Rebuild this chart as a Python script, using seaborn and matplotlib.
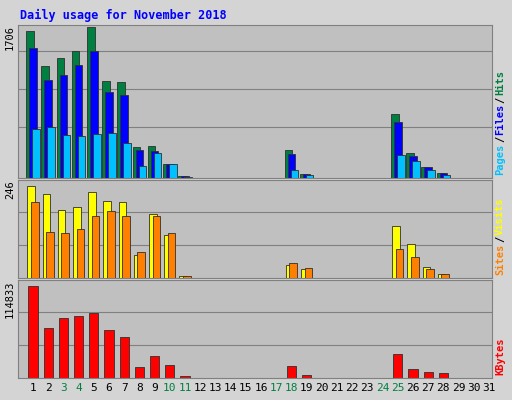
import numpy as np
import matplotlib
matplotlib.use("Agg")
import matplotlib.pyplot as plt
import seaborn as sns

sns.set_style("white")
plt.rcParams['font.family'] = ['DejaVu Sans Mono', 'DejaVu Sans']

days = list(range(1, 32))
weekend_days = [3, 4, 10, 11, 17, 18, 24, 25]
active = [1, 2, 3, 4, 5, 6, 7, 8, 9, 10, 11, 18, 19, 25, 26, 27, 28]

hits = [1660, 1262, 1353, 1433, 1706, 1092, 1081, 353, 364, 160, 23, 319, 46, 728, 284, 125, 57]
files = [1467, 1103, 1160, 1274, 1433, 967, 933, 319, 307, 160, 23, 273, 46, 637, 250, 125, 57]
pages = [557, 580, 489, 478, 500, 512, 398, 137, 284, 160, 10, 91, 34, 262, 193, 91, 34]

visits = [241, 220, 178, 186, 225, 202, 199, 60, 168, 111, 5, 34, 23, 135, 88, 28, 10]
sites = [199, 119, 117, 127, 163, 176, 163, 67, 163, 117, 5, 39, 26, 75, 54, 23, 10]

kbytes = [112415, 60443, 72533, 76160, 79787, 58025, 49563, 13298, 26597, 15717, 2418, 14508, 3627, 29015, 10880, 7253, 6044]

BG = "#c0c0c0"
fig = plt.figure(figsize=(5.12, 4.0), dpi=100, facecolor="#d4d4d4")

def px_axes(x0, y0, x1, y1):
    return fig.add_axes([x0 / 512, 1 - y1 / 400, (x1 - x0) / 512, (y1 - y0) / 400])

def style(ax, top, grid_fracs, left_label, right_parts):
    ax.set_facecolor(BG)
    ax.set_xlim(0.013, 31.2)
    ax.set_ylim(0, top)
    for f in grid_fracs:
        ax.axhline(f * top, color="#808080", lw=0.8, zorder=0)
    ax.set_xticks([])
    ax.set_yticks([])
    for s in ax.spines.values():
        s.set_color("#808080")
    h_px = ax.get_position().height * 400
    ax.text(-8 / 474, 1.0, left_label, transform=ax.transAxes, rotation=90,
            ha="center", va="top", fontsize=7.5, color="black")
    y = 3 / h_px
    for txt, col in right_parts:
        ax.text(1 + 8 / 474, y, txt, transform=ax.transAxes, rotation=90,
                ha="center", va="bottom", fontsize=7.5, color=col, fontweight="bold")
        y += (len(txt) * 6.3 + 1) / h_px

def draw_bars(ax, series, colors, offsets, w=0.5):
    x = np.array(active, dtype=float)
    for vals, col, off in zip(series, colors, offsets):
        ax.bar(x + off, vals, width=w, color=col, edgecolor="#303030", lw=0.6, zorder=2)

ax1 = px_axes(18, 25, 492, 178)
style(ax1, 1706 * 1.013, [0.333, 0.58, 0.833], "1706",
      [("Pages", "#00c0ff"), ("/", "black"), ("Files", "#0000ff"), ("/", "black"), ("Hits", "#008040")])
draw_bars(ax1, [hits, files, pages], ["#008040", "#0000ff", "#00c0ff"], [-0.2, 0.0, 0.2])

ax2 = px_axes(18, 180, 492, 278)
style(ax2, 246 * 1.04, [0.337, 0.674], "246",
      [("Sites", "#ff8000"), ("/", "black"), ("Visits", "#ffff00")])
draw_bars(ax2, [visits, sites], ["#ffff00", "#ff8000"], [-0.12, 0.12])

ax3 = px_axes(18, 280, 492, 378)
style(ax3, 114833 * 1.04, [0.337, 0.674], "114833", [("KBytes", "#ff0000")])
draw_bars(ax3, [kbytes], ["#ff0000"], [0.0], w=0.6)

for d in days:
    col = "#008040" if d in weekend_days else "black"
    ax3.text(d, -0.1, str(d), transform=ax3.get_xaxis_transform(), ha="center",
             va="center", fontsize=8, color=col)

fig.text(20 / 512, 1 - 15 / 400, "Daily usage for November 2018", ha="left", va="center",
         fontsize=8.5, fontweight="bold", color="#0000ff")

fig.savefig("out.png", dpi=100, facecolor=fig.get_facecolor())
